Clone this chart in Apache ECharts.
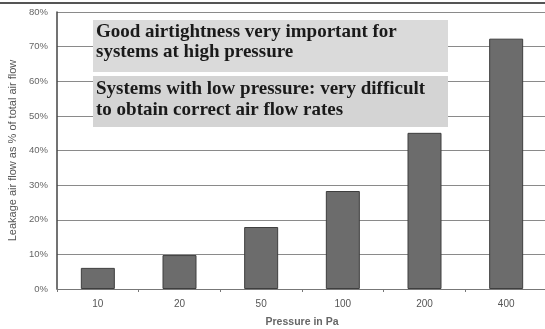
<!DOCTYPE html>
<html>
<head>
<meta charset="utf-8">
<script src="https://cdn.jsdelivr.net/npm/echarts@6/dist/echarts.min.js"></script>
<style>html,body{margin:0;padding:0;background:#fff}#c{width:545px;height:329px}</style>
</head>
<body>
<div id="c"></div>
<script>
const categories = ['10', '20', '50', '100', '200', '400'];
const leakage = [6.1, 9.8, 17.9, 28.3, 45.1, 72.3];
const yTicks = [0, 10, 20, 30, 40, 50, 60, 70, 80];
const note1 = ['Good airtightness very important for', 'systems at high pressure'];
const note2 = ['Systems with low pressure: very difficult', 'to obtain correct air flow rates'];

const chart = echarts.init(document.getElementById('c'));
const serif = '"Liberation Serif", "DejaVu Serif", serif';
chart.setOption({
  animation: false,
  backgroundColor: '#fff',
  grid: { left: 57, top: 12, width: 490, height: 277, containLabel: false, outerBoundsMode: 'none' },
  xAxis: {
    type: 'category',
    data: categories,
    name: 'Pressure in Pa',
    nameLocation: 'middle',
    nameGap: 28,
    nameTextStyle: { fontFamily: 'Arial, "Liberation Sans", sans-serif', fontSize: 10.5, fontWeight: 'bold', color: '#666' },
    axisLine: { lineStyle: { color: '#777', width: 1 } },
    axisTick: { show: true, alignWithLabel: false, length: 3, lineStyle: { color: '#777' } },
    axisLabel: { fontFamily: 'Arial, "Liberation Sans", sans-serif', fontSize: 10, color: '#555', margin: 10 }
  },
  yAxis: {
    type: 'value',
    min: yTicks[0],
    max: yTicks[yTicks.length - 1],
    interval: 10,
    name: 'Leakage air flow as % of total air flow',
    nameLocation: 'middle',
    nameGap: 35,
    nameTextStyle: { fontFamily: 'Arial, "Liberation Sans", sans-serif', fontSize: 11, color: '#555' },
    axisLine: { show: true, lineStyle: { color: '#444', width: 1.5 } },
    axisTick: { show: false },
    axisLabel: { formatter: '{value}%', fontFamily: 'Arial, "Liberation Sans", sans-serif', fontSize: 9.5, color: '#666', margin: 9 },
    splitLine: { lineStyle: { color: '#8a8a8a', width: 1 } }
  },
  series: [{
    type: 'bar',
    data: leakage,
    barWidth: 34,
    itemStyle: { color: '#6c6c6c', borderColor: '#3e3e3e', borderWidth: 1 }
  }],
  graphic: [
    { type: 'line', z: 100, shape: { x1: 0, y1: 3, x2: 545, y2: 3 }, style: { stroke: '#555', lineWidth: 2 } },
    { type: 'rect', z: 100, shape: { x: 93, y: 20, width: 355, height: 52 }, style: { fill: '#dadada' } },
    { type: 'text', z: 101, left: 96, top: 22, style: { text: note1.join('\n'), font: 'bold 19px ' + serif, fill: '#1a1a1a', lineHeight: 20 } },
    { type: 'rect', z: 100, shape: { x: 93, y: 76, width: 355, height: 51 }, style: { fill: '#d4d4d4' } },
    { type: 'text', z: 101, left: 96, top: 79, style: { text: note2.join('\n'), font: 'bold 19px ' + serif, fill: '#1a1a1a', lineHeight: 21 } }
  ]
});
</script>
</body>
</html>
